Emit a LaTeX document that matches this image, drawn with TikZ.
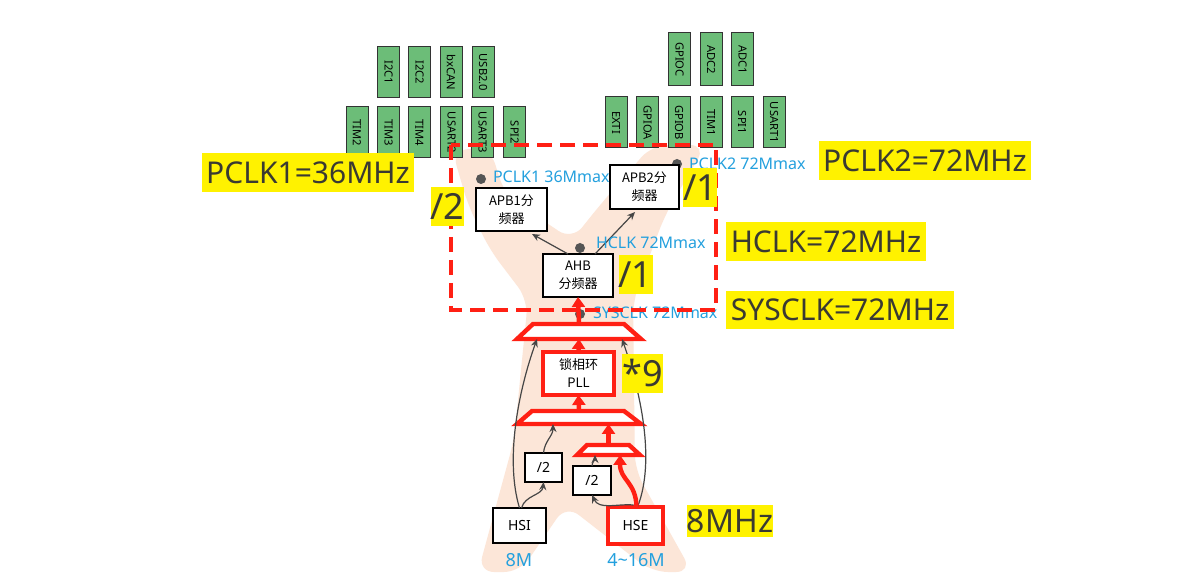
\documentclass[tikz,border=0pt]{standalone}
\usepackage{fontspec}
\setmainfont{Noto Sans}
\newfontfamily\cjk{Noto Sans CJK SC}
\usetikzlibrary{arrows.meta,calc}
\definecolor{peach}{RGB}{252,230,216}
\definecolor{gfill}{RGB}{108,189,120}
\definecolor{clkblue}{RGB}{35,160,222}
\definecolor{hlyellow}{RGB}{255,242,0}
\definecolor{dtext}{RGB}{58,58,50}
\definecolor{dotgray}{RGB}{85,85,85}
\definecolor{arrgray}{RGB}{70,70,70}
\definecolor{mred}{RGB}{255,32,20}
\begin{document}
\begin{tikzpicture}[x=0.5pt,y=-0.5pt,
  every node/.style={outer sep=0pt},
  gbox/.style={draw=black!80,line width=0.5pt,fill=gfill,rotate=-90,inner sep=0pt,
    minimum width=25.5pt,minimum height=11pt,font=\fontsize{5.6}{5.6}\selectfont},
  gboxtall/.style={gbox,minimum width=26.5pt},
  wbox/.style={draw=black,line width=0.7pt,fill=white,inner sep=0pt,align=center,
    font=\cjk\fontsize{6.5}{9}\selectfont},
  rbox/.style={wbox,draw=mred,line width=2.2pt},
  muxline/.style={draw=mred,line width=2.2pt,fill=white,line join=miter},
  ylab/.style={fill=hlyellow,text=dtext,inner sep=0pt,font=\fontsize{15}{15}\selectfont},
  yslash/.style={ylab,minimum width=15.5pt,minimum height=19.5pt,font=\fontsize{18}{18}\selectfont},
  blab/.style={text=clkblue,inner sep=0pt,anchor=west,font=\fontsize{8}{8}\selectfont},
  flab/.style={text=clkblue,inner sep=0pt,font=\fontsize{9}{9}\selectfont},
  cdot/.style={circle,fill=dotgray,minimum size=5pt,inner sep=0pt},
  redarr/.style={draw=mred,line width=2.2pt,-{Triangle[width=6.5pt,length=5pt]}},
  grayarr/.style={draw=arrgray,line width=0.6pt,-{Stealth[width=3.5pt,length=4pt]}}
]
\useasboundingbox (0,0) rectangle (1182,576);
\fill[white] (0,0) rectangle (1182,576);

% background X shape
\fill[peach,rounded corners=8pt] (452,150) -- (490,148) -- (505,195) -- (572,240)
  -- (600,205) -- (652,145) -- (706,145) -- (665,215) -- (633,300) -- (635,470)
  -- (692,572) -- (652,572) -- (566,505) -- (520,572) -- (478,572) -- (514,440)
  -- (528,300) -- (490,250) -- (468,205) -- cycle;

% peripheral boxes
\node[gbox] (i2c1) at (388.5,72.5) {I2C1};
\node[gbox] (i2c2) at (419.5,72.5) {I2C2};
\node[gbox] (bxcan) at (451,72.5) {bxCAN};
\node[gbox] (usb) at (483,72.5) {USB2.0};
\node[gbox] (tim2) at (357,132.5) {TIM2};
\node[gbox] (tim3) at (388.5,132.5) {TIM3};
\node[gbox] (tim4) at (419.5,132.5) {TIM4};
\node[gbox] (usart2) at (451.5,132.5) {USART2};
\node[gbox] (usart3) at (482.5,132.5) {USART3};
\node[gbox] (spi2) at (514.5,132.5) {SPI2};
\node[gboxtall] (gpioc) at (679.5,59.5) {GPIOC};
\node[gboxtall] (adc2) at (711,59.5) {ADC2};
\node[gboxtall] (adc1) at (742.5,59.5) {ADC1};
\node[gbox] (exti) at (616,122.5) {EXTI};
\node[gbox] (gpioa) at (647.5,122.5) {GPIOA};
\node[gbox] (gpiob) at (679,122.5) {GPIOB};
\node[gbox] (tim1) at (711,122.5) {TIM1};
\node[gbox] (spi1) at (742,122.5) {SPI1};
\node[gbox] (usart1) at (774,122.5) {USART1};

% dots
\node[cdot] (dp1) at (481,179) {};
\node[cdot] (dp2) at (677,164) {};
\node[cdot] (dh) at (580,248) {};
\node[cdot] (ds) at (580,314) {};

% prescaler boxes
\node[wbox,minimum width=35.5pt,minimum height=21.5pt] (apb1) at (511.5,209.5) {APB1分\\频器};
\node[wbox,minimum width=34.5pt,minimum height=22pt] (apb2) at (644.5,187) {APB2分\\频器};
\node[wbox,minimum width=35pt,minimum height=21.5pt] (ahb) at (578,275.5) {AHB\\分频器};

% multiplexers (trapezoids)
\coordinate (topmuxS) at (579,339);
\coordinate (topmuxN) at (579,324);
\draw[muxline] (517,339) -- (641,339) -- (624,324) -- (533,324) -- cycle;
\coordinate (midmuxS) at (579,424);
\coordinate (midmuxN) at (579,411);
\draw[muxline] (517,424) -- (641,424) -- (624,411) -- (532,411) -- cycle;
\coordinate (smallmuxS) at (608.5,455);
\coordinate (smallmuxN) at (608.5,445);
\draw[muxline] (577,455) -- (640,455) -- (629,445) -- (587,445) -- cycle;

% clock sources and PLL
\node[rbox,minimum width=35.5pt,minimum height=21.5pt] (pll) at (578.5,373.5) {锁相环\\PLL};
\node[wbox,minimum width=18.5pt,minimum height=14.5pt,font=\fontsize{7}{7}\selectfont] (div1) at (543.5,467.5) {/2};
\node[wbox,minimum width=19pt,minimum height=14.5pt,font=\fontsize{7}{7}\selectfont] (div2) at (592,480.5) {/2};
\node[wbox,minimum width=26.5pt,minimum height=17.5pt,font=\fontsize{7}{7}\selectfont] (hsi) at (519.5,525.5) {HSI};
\node[rbox,minimum width=27.5pt,minimum height=18.5pt,font=\fontsize{7}{7}\selectfont] (hse) at (635.5,525.5) {HSE};

\coordinate (tmL) at ($(topmuxS)+(-42,0)$);
\coordinate (tmR) at ($(topmuxS)+(43,0)$);
\coordinate (mmIn) at ($(midmuxS)+(-26,0)$);
\coordinate (mmIn2) at ($(midmuxS)+(29.5,0)$);
\coordinate (smIn1) at ($(smallmuxS)+(-13.5,0)$);
\coordinate (smIn2) at ($(smallmuxS)+(11.5,0)$);

% gray connectors
\draw[grayarr] ($(ahb.north)+(-10,0)$) -- ($(apb1.south)+(20.5,3)$);
\draw[grayarr] ($(ahb.north)+(17,0)$) -- ($(apb2.south)+(-9.5,3)$);
\draw[grayarr] ($(hsi.north)+(2,0)$) to[out=75,in=-95] (div1.south);
\draw[grayarr] (div1.north) to[out=85,in=-90] (mmIn);
\draw[grayarr] ($(hse.north)+(-2,-2)$) to[out=175,in=-65] (div2.south);
\draw[grayarr] (div2.north) to[out=85,in=-90] (smIn1);
\draw[grayarr] (hsi.north) .. controls (505,460) and (518,392) .. (tmL);
\draw[grayarr] ($(hse.north)+(2,0)$) .. controls (656,460) and (640,390) .. (tmR);

% red connectors
\draw[redarr] (topmuxN) -- (ahb.south);
\draw[redarr] (pll.north) -- (topmuxS);
\draw[redarr] (midmuxN) -- (pll.south);
\draw[redarr] (smallmuxN) -- (mmIn2);
\draw[redarr] ($(hse.north)+(1,0)$) .. controls (636,482) and (620,480) .. (smIn2);

% blue labels
\node[blab] (lp1) at (493,177) {PCLK1 36Mmax};
\node[blab] (lp2) at (689,164) {PCLK2 72Mmax};
\node[blab] (lh) at (596,243) {HCLK 72Mmax};
\node[blab] (ls) at (593,313) {SYSCLK 72Mmax};
\node[flab] (l8m) at (519,560) {8M};
\node[flab] (l416) at (636,560) {4\char"7E 16M};

% dashed frame
\draw[mred,line width=2.2pt,dash pattern=on 7.5pt off 4pt] (451,145) rectangle (716,310);

% yellow labels
\node[ylab,minimum width=106pt,minimum height=19.5pt] (yp1) at (308,172.5) {PCLK1=36MHz};
\node[ylab,minimum width=106pt,minimum height=19.5pt] (yp2) at (925,160.5) {PCLK2=72MHz};
\node[ylab,minimum width=100pt,minimum height=19.5pt] (yh) at (826,241.5) {HCLK=72MHz};
\node[ylab,minimum width=114pt,minimum height=19pt] (ys) at (840,310) {SYSCLK=72MHz};
\node[yslash] (d2) at (447.5,206.5) {/2};
\node[yslash] (d1a) at (700,188) {/1};
\node[yslash] (d1b) at (635.5,275) {/1};
\node[yslash] (m9) at (642.5,373.5) {*9};
\node[ylab,minimum width=42pt,minimum height=16pt,font=\fontsize{16}{16}\selectfont] (y8) at (730,521) {8MHz};
\end{tikzpicture}
\end{document}
